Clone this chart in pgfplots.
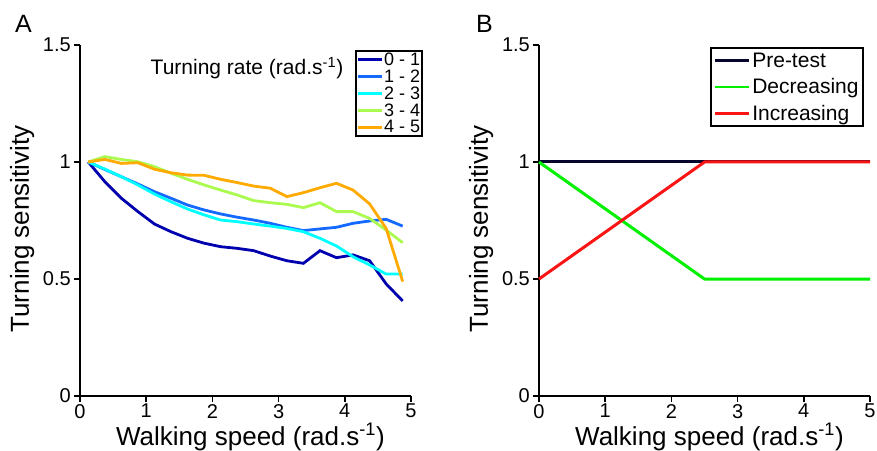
\documentclass[border=0pt]{standalone}
\usepackage{pgfplots}
\usepackage{pgfplotstable}
\pgfplotsset{compat=1.18}
\usepackage{fontspec}
\setmainfont{Liberation Sans}

\definecolor{cA}{RGB}{0,0,175}
\definecolor{cB}{RGB}{20,105,255}
\definecolor{cC}{RGB}{0,255,255}
\definecolor{cD}{RGB}{170,250,80}
\definecolor{cE}{RGB}{255,170,0}
\definecolor{gr}{RGB}{0,240,0}
\definecolor{rd}{RGB}{250,20,20}
\definecolor{nv}{RGB}{5,5,45}

\pgfplotstableread{
x      s1    s2    s3    s4    s5
0.125  1.000 1.000 1.000 1.000 1.000
0.375  0.916 0.968 0.970 1.023 1.011
0.625  0.845 0.937 0.937 1.011 0.994
0.875  0.788 0.906 0.902 1.001 0.997
1.125  0.735 0.873 0.863 0.980 0.969
1.375  0.702 0.845 0.830 0.952 0.954
1.625  0.674 0.816 0.799 0.926 0.944
1.875  0.653 0.795 0.774 0.902 0.943
2.125  0.638 0.778 0.752 0.880 0.926
2.375  0.631 0.764 0.745 0.859 0.912
2.625  0.621 0.752 0.735 0.835 0.897
2.875  0.598 0.738 0.726 0.826 0.888
3.125  0.578 0.721 0.716 0.819 0.852
3.375  0.567 0.707 0.702 0.805 0.869
3.625  0.621 0.714 0.674 0.826 0.890
3.875  0.591 0.721 0.641 0.788 0.909
4.125  0.603 0.738 0.595 0.788 0.880
4.375  0.578 0.748 0.560 0.759 0.821
4.625  0.479 0.755 0.521 0.709 0.716
4.875  0.406 0.726 0.521 0.655 0.489
}\dataA

\pgfplotsset{
  myax/.style={
    scale only axis, width=331pt, height=351pt,
    xmin=0, xmax=5, ymin=0, ymax=1.5,
    axis x line=bottom, axis y line=left,
    axis line style={-, line width=1.6pt, black},
    tick align=outside, major tick length=6pt,
    tick style={line width=1.6pt, black},
    xtick={0,1,2,3,4,5}, ytick={0,0.5,1,1.5},
    ticklabel style={font=\fontsize{20}{24}\selectfont},
    yticklabel style={inner sep=1pt, xshift=-2pt},
    xticklabel style={inner sep=1pt, yshift=-1pt},
    /pgf/number format/assume math mode=true,
    label style={font=\fontsize{26}{30}\selectfont},
    xlabel={Walking speed (rad.s\textsuperscript{-1})},
    ylabel={Turning sensitivity},
    xlabel style={at={(axis description cs:0.515,-0.1396)}, anchor=base},
    ylabel style={at={(axis description cs:-0.175,0.476)}, anchor=center},
    legend cell align=left,
    every axis plot/.append style={line width=2.8pt},
    clip=false,
  }
}

\begin{document}
\begin{tikzpicture}[x=1pt,y=1pt]
\useasboundingbox (0,0) rectangle (877,450);

\begin{axis}[myax, at={(80pt,54pt)}, anchor=south west,
  legend image code/.code={\draw[#1, line width=2.6pt] (0pt,0pt) -- (24pt,0pt);},
  legend style={at={(1.036,0.986)}, anchor=north east,
    font=\fontsize{18}{18}\selectfont, draw=black, line width=2pt,
    inner sep=1pt, row sep=1.5pt, nodes={inner sep=0.7pt}}]
\addplot[cA] table[x=x, y=s1] {\dataA};
\addlegendentry{0 - 1}
\addplot[cB] table[x=x, y=s2] {\dataA};
\addlegendentry{1 - 2}
\addplot[cC] table[x=x, y=s3] {\dataA};
\addlegendentry{2 - 3}
\addplot[cD] table[x=x, y=s4] {\dataA};
\addlegendentry{3 - 4}
\addplot[cE] table[x=x, y=s5] {\dataA};
\addlegendentry{4 - 5}
\end{axis}

\begin{axis}[myax, at={(539pt,54pt)}, anchor=south west,
  every axis plot/.append style={line width=3pt},
  legend image code/.code={\draw[#1, line width=2.8pt] (0pt,0pt) -- (34pt,0pt);},
  legend style={at={(0.982,0.994)}, anchor=north east,
    font=\fontsize{21}{24}\selectfont, draw=black, line width=2pt,
    inner sep=2.5pt, row sep=6pt}]
\addplot[nv] coordinates {(0,1) (5,1)};
\addlegendentry{Pre-test}
\addplot[gr] coordinates {(0,1) (2.5,0.5) (5,0.5)};
\addlegendentry{Decreasing}
\addplot[rd] coordinates {(0,0.5) (2.5,1) (5,1)};
\addlegendentry{Increasing}
\end{axis}

\node[font=\fontsize{21}{24}\selectfont, anchor=base] at (247,375) {Turning rate (rad.s\textsuperscript{-1})};
\node[font=\fontsize{25}{28}\selectfont, anchor=base west, inner sep=0pt] at (15,417) {A};
\node[font=\fontsize{25}{28}\selectfont, anchor=base west, inner sep=0pt] at (476,417) {B};
\end{tikzpicture}
\end{document}
